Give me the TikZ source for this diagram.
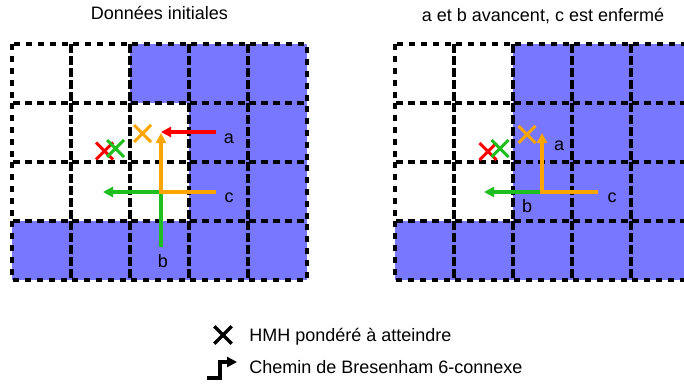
\documentclass[tikz,border=0pt]{standalone}
\usepackage{fontspec}
\setmainfont{Liberation Sans}
\usetikzlibrary{arrows.meta,positioning,shapes.misc}

\definecolor{bleucase}{RGB}{119,119,255}
\definecolor{rouge}{RGB}{255,0,0}
\definecolor{vert}{RGB}{30,190,30}
\definecolor{orangeb}{RGB}{255,165,0}

\begin{document}
\begin{tikzpicture}[
    x=0.5pt, y=-0.5pt,
    >={Triangle[length=5pt,width=5pt]},
    case/.style={draw, line width=1.7pt, dash pattern=on 3.2pt off 2.8pt},
    chemin/.style={line width=1.7pt},
    croix/.style={cross out, draw, line width=1.5pt, minimum size=7pt, inner sep=0pt},
    texte/.style={font=\fontsize{9}{11}\selectfont},
    legende/.style={texte, inner sep=0pt, anchor=base west}
]
\useasboundingbox (0,0) rectangle (684,385);

% Titres
\node[texte, anchor=base] (titreG) at (159.5,20) {Données initiales};
\node[texte, anchor=base] (titreD) at (543,22) {a et b avancent, c est enfermé};

% Cases pleines
\foreach \c/\r in {2/0,3/0,4/0,3/1,4/1,3/2,4/2,0/3,1/3,2/3,3/3,4/3}
  \fill[bleucase] (12+59*\c,44+59*\r) rectangle ++(59,59);
\foreach \c/\r in {2/0,3/0,4/0,2/1,3/1,4/1,2/2,3/2,4/2,0/3,1/3,2/3,3/3,4/3}
  \fill[bleucase] (395+59*\c,44+59*\r) rectangle ++(59,59);

% Grilles
\foreach \c in {0,...,4}
  \foreach \r in {0,...,3} {
    \draw[case] (12+59*\c,44+59*\r) rectangle ++(59,59);
    \draw[case] (395+59*\c,44+59*\r) rectangle ++(59,59);
  }

% Donnees initiales
\node[croix, draw=orangeb] (xoG) at (142.5,133.5) {};
\node[croix, draw=rouge] (xrG) at (104.5,151) {};
\node[croix, draw=vert] (xvG) at (115.5,148.5) {};

\coordinate (aG) at (216,132);
\coordinate (aGfin) at (161,132);
\coordinate (cG) at (216,192);
\coordinate (coinG) at (161,192);
\coordinate (cGfin) at (161,133);
\coordinate (bG) at (161,247);
\coordinate (bGfin) at (103,192);

\draw[chemin, vert, ->] (bG) -- (coinG) -- (bGfin);
\draw[chemin, orangeb, ->] (cG) -- (coinG) -- (cGfin);
\draw[chemin, rouge, ->] (aG) -- (aGfin);

\node[texte] (laG) at (229,139) {a};
\node[texte] (lcG) at (229,198) {c};
\node[texte] (lbG) at (163,261) {b};

% a et b avancent
\node[croix, draw=orangeb] (xoD) at (527,134.5) {};
\node[croix, draw=rouge] (xrD) at (488,151.5) {};
\node[croix, draw=vert] (xvD) at (500,148.5) {};

\coordinate (cD) at (598,192);
\coordinate (coinD) at (542,192);
\coordinate (cDfin) at (542,133);
\coordinate (bD) at (540,192);
\coordinate (bDfin) at (484,192);

\draw[chemin, vert, ->] (bD) -- (bDfin);
\draw[chemin, orangeb, ->] (cD) -- (coinD) -- (cDfin);

\node[texte] (laD) at (559,145.5) {a};
\node[texte] (lcD) at (612,198) {c};
\node[texte] (lbD) at (527,206) {b};

% Legende
\node[croix, draw=black, line width=1.7pt] (lx) at (223,335) {};
\node[legende] (lhmh) at (249,341) {HMH pondéré à atteindre};
\node[legende, below=16pt of lhmh.base west, anchor=base west] (lbres) {Chemin de Bresenham 6-connexe};

\coordinate (bres1) at (207,378);
\coordinate (bres2) at (220,378);
\coordinate (bres3) at (220,362);
\coordinate (bres4) at (237,362);
\draw[chemin, ->] (bres1) -- (bres2) -- (bres3) -- (bres4);

\end{tikzpicture}
\end{document}
